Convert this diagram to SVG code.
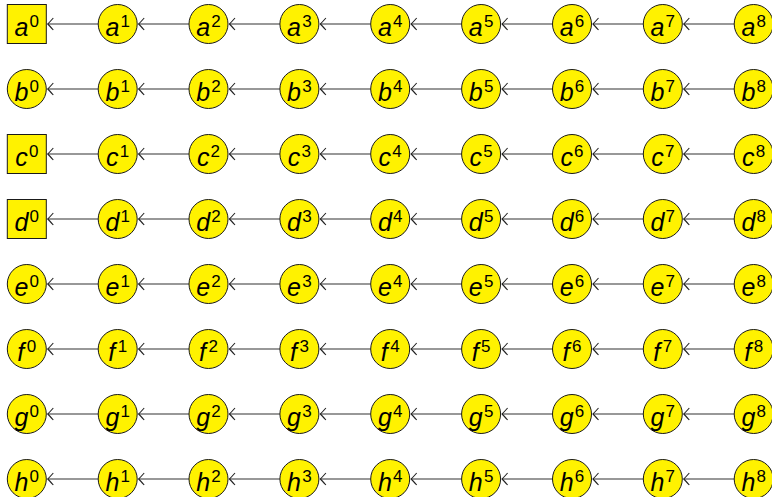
<svg xmlns="http://www.w3.org/2000/svg" width="772" height="497" viewBox="0 0 772 497">
<defs>
<style>
.n{fill:#fff200;stroke:#1a1a1a;stroke-width:1}
.t{font-family:"Liberation Sans",Arial,sans-serif;font-size:25px;text-anchor:middle;fill:#000}
.v{font-style:italic}
.s{font-size:17px;font-style:normal}
.e{stroke:#333;stroke-width:1.2;fill:none;marker-end:url(#ah)}
</style>
<marker id="ah" markerUnits="userSpaceOnUse" viewBox="-8 -8 10 16" markerWidth="10" markerHeight="16" refX="0" refY="0" orient="auto">
<path d="M-5.5,-6 Q-1.5,-1.5 0,0 Q-1.5,1.5 -5.5,6" fill="none" stroke="#222" stroke-width="1.1"/>
</marker>
</defs>
<rect width="772" height="497" fill="#fff"/>
<g id="connectors">
<path class="e" d="M98.2,24H47.8"/><path class="e" d="M189,24H138.7"/><path class="e" d="M279.9,24H229.5"/><path class="e" d="M370.7,24H320.4"/><path class="e" d="M461.6,24H411.2"/><path class="e" d="M552.5,24H502.1"/><path class="e" d="M643.3,24H593"/><path class="e" d="M734.2,24H683.8"/>
<path class="e" d="M98.2,89H47.8"/><path class="e" d="M189,89H138.7"/><path class="e" d="M279.9,89H229.5"/><path class="e" d="M370.7,89H320.4"/><path class="e" d="M461.6,89H411.2"/><path class="e" d="M552.5,89H502.1"/><path class="e" d="M643.3,89H593"/><path class="e" d="M734.2,89H683.8"/>
<path class="e" d="M98.2,154H47.8"/><path class="e" d="M189,154H138.7"/><path class="e" d="M279.9,154H229.5"/><path class="e" d="M370.7,154H320.4"/><path class="e" d="M461.6,154H411.2"/><path class="e" d="M552.5,154H502.1"/><path class="e" d="M643.3,154H593"/><path class="e" d="M734.2,154H683.8"/>
<path class="e" d="M98.2,219H47.8"/><path class="e" d="M189,219H138.7"/><path class="e" d="M279.9,219H229.5"/><path class="e" d="M370.7,219H320.4"/><path class="e" d="M461.6,219H411.2"/><path class="e" d="M552.5,219H502.1"/><path class="e" d="M643.3,219H593"/><path class="e" d="M734.2,219H683.8"/>
<path class="e" d="M98.2,284H47.8"/><path class="e" d="M189,284H138.7"/><path class="e" d="M279.9,284H229.5"/><path class="e" d="M370.7,284H320.4"/><path class="e" d="M461.6,284H411.2"/><path class="e" d="M552.5,284H502.1"/><path class="e" d="M643.3,284H593"/><path class="e" d="M734.2,284H683.8"/>
<path class="e" d="M98.2,349H47.8"/><path class="e" d="M189,349H138.7"/><path class="e" d="M279.9,349H229.5"/><path class="e" d="M370.7,349H320.4"/><path class="e" d="M461.6,349H411.2"/><path class="e" d="M552.5,349H502.1"/><path class="e" d="M643.3,349H593"/><path class="e" d="M734.2,349H683.8"/>
<path class="e" d="M98.2,414H47.8"/><path class="e" d="M189,414H138.7"/><path class="e" d="M279.9,414H229.5"/><path class="e" d="M370.7,414H320.4"/><path class="e" d="M461.6,414H411.2"/><path class="e" d="M552.5,414H502.1"/><path class="e" d="M643.3,414H593"/><path class="e" d="M734.2,414H683.8"/>
<path class="e" d="M98.2,479H47.8"/><path class="e" d="M189,479H138.7"/><path class="e" d="M279.9,479H229.5"/><path class="e" d="M370.7,479H320.4"/><path class="e" d="M461.6,479H411.2"/><path class="e" d="M552.5,479H502.1"/><path class="e" d="M643.3,479H593"/><path class="e" d="M734.2,479H683.8"/>
</g>
<g id="a0"><rect class="n" x="7.3" y="4.5" width="39" height="39"/><text class="t" x="26.8" y="36"><tspan class="v">a</tspan><tspan class="s" dx="1.2" dy="-8.6">0</tspan></text></g>
<g id="a1"><circle class="n" cx="117.7" cy="24" r="19.5"/><text class="t" x="117.7" y="36"><tspan class="v">a</tspan><tspan class="s" dx="1.2" dy="-8.6">1</tspan></text></g>
<g id="a2"><circle class="n" cx="208.5" cy="24" r="19.5"/><text class="t" x="208.5" y="36"><tspan class="v">a</tspan><tspan class="s" dx="1.2" dy="-8.6">2</tspan></text></g>
<g id="a3"><circle class="n" cx="299.4" cy="24" r="19.5"/><text class="t" x="299.4" y="36"><tspan class="v">a</tspan><tspan class="s" dx="1.2" dy="-8.6">3</tspan></text></g>
<g id="a4"><circle class="n" cx="390.2" cy="24" r="19.5"/><text class="t" x="390.2" y="36"><tspan class="v">a</tspan><tspan class="s" dx="1.2" dy="-8.6">4</tspan></text></g>
<g id="a5"><circle class="n" cx="481.1" cy="24" r="19.5"/><text class="t" x="481.1" y="36"><tspan class="v">a</tspan><tspan class="s" dx="1.2" dy="-8.6">5</tspan></text></g>
<g id="a6"><circle class="n" cx="572" cy="24" r="19.5"/><text class="t" x="572" y="36"><tspan class="v">a</tspan><tspan class="s" dx="1.2" dy="-8.6">6</tspan></text></g>
<g id="a7"><circle class="n" cx="662.8" cy="24" r="19.5"/><text class="t" x="662.8" y="36"><tspan class="v">a</tspan><tspan class="s" dx="1.2" dy="-8.6">7</tspan></text></g>
<g id="a8"><circle class="n" cx="753.7" cy="24" r="19.5"/><text class="t" x="753.7" y="36"><tspan class="v">a</tspan><tspan class="s" dx="1.2" dy="-8.6">8</tspan></text></g>
<g id="b0"><circle class="n" cx="26.8" cy="89" r="19.5"/><text class="t" x="26.8" y="101"><tspan class="v">b</tspan><tspan class="s" dx="1.2" dy="-8.6">0</tspan></text></g>
<g id="b1"><circle class="n" cx="117.7" cy="89" r="19.5"/><text class="t" x="117.7" y="101"><tspan class="v">b</tspan><tspan class="s" dx="1.2" dy="-8.6">1</tspan></text></g>
<g id="b2"><circle class="n" cx="208.5" cy="89" r="19.5"/><text class="t" x="208.5" y="101"><tspan class="v">b</tspan><tspan class="s" dx="1.2" dy="-8.6">2</tspan></text></g>
<g id="b3"><circle class="n" cx="299.4" cy="89" r="19.5"/><text class="t" x="299.4" y="101"><tspan class="v">b</tspan><tspan class="s" dx="1.2" dy="-8.6">3</tspan></text></g>
<g id="b4"><circle class="n" cx="390.2" cy="89" r="19.5"/><text class="t" x="390.2" y="101"><tspan class="v">b</tspan><tspan class="s" dx="1.2" dy="-8.6">4</tspan></text></g>
<g id="b5"><circle class="n" cx="481.1" cy="89" r="19.5"/><text class="t" x="481.1" y="101"><tspan class="v">b</tspan><tspan class="s" dx="1.2" dy="-8.6">5</tspan></text></g>
<g id="b6"><circle class="n" cx="572" cy="89" r="19.5"/><text class="t" x="572" y="101"><tspan class="v">b</tspan><tspan class="s" dx="1.2" dy="-8.6">6</tspan></text></g>
<g id="b7"><circle class="n" cx="662.8" cy="89" r="19.5"/><text class="t" x="662.8" y="101"><tspan class="v">b</tspan><tspan class="s" dx="1.2" dy="-8.6">7</tspan></text></g>
<g id="b8"><circle class="n" cx="753.7" cy="89" r="19.5"/><text class="t" x="753.7" y="101"><tspan class="v">b</tspan><tspan class="s" dx="1.2" dy="-8.6">8</tspan></text></g>
<g id="c0"><rect class="n" x="7.3" y="134.5" width="39" height="39"/><text class="t" x="26.8" y="166"><tspan class="v">c</tspan><tspan class="s" dx="1.2" dy="-8.6">0</tspan></text></g>
<g id="c1"><circle class="n" cx="117.7" cy="154" r="19.5"/><text class="t" x="117.7" y="166"><tspan class="v">c</tspan><tspan class="s" dx="1.2" dy="-8.6">1</tspan></text></g>
<g id="c2"><circle class="n" cx="208.5" cy="154" r="19.5"/><text class="t" x="208.5" y="166"><tspan class="v">c</tspan><tspan class="s" dx="1.2" dy="-8.6">2</tspan></text></g>
<g id="c3"><circle class="n" cx="299.4" cy="154" r="19.5"/><text class="t" x="299.4" y="166"><tspan class="v">c</tspan><tspan class="s" dx="1.2" dy="-8.6">3</tspan></text></g>
<g id="c4"><circle class="n" cx="390.2" cy="154" r="19.5"/><text class="t" x="390.2" y="166"><tspan class="v">c</tspan><tspan class="s" dx="1.2" dy="-8.6">4</tspan></text></g>
<g id="c5"><circle class="n" cx="481.1" cy="154" r="19.5"/><text class="t" x="481.1" y="166"><tspan class="v">c</tspan><tspan class="s" dx="1.2" dy="-8.6">5</tspan></text></g>
<g id="c6"><circle class="n" cx="572" cy="154" r="19.5"/><text class="t" x="572" y="166"><tspan class="v">c</tspan><tspan class="s" dx="1.2" dy="-8.6">6</tspan></text></g>
<g id="c7"><circle class="n" cx="662.8" cy="154" r="19.5"/><text class="t" x="662.8" y="166"><tspan class="v">c</tspan><tspan class="s" dx="1.2" dy="-8.6">7</tspan></text></g>
<g id="c8"><circle class="n" cx="753.7" cy="154" r="19.5"/><text class="t" x="753.7" y="166"><tspan class="v">c</tspan><tspan class="s" dx="1.2" dy="-8.6">8</tspan></text></g>
<g id="d0"><rect class="n" x="7.3" y="199.5" width="39" height="39"/><text class="t" x="26.8" y="231"><tspan class="v">d</tspan><tspan class="s" dx="1.2" dy="-8.6">0</tspan></text></g>
<g id="d1"><circle class="n" cx="117.7" cy="219" r="19.5"/><text class="t" x="117.7" y="231"><tspan class="v">d</tspan><tspan class="s" dx="1.2" dy="-8.6">1</tspan></text></g>
<g id="d2"><circle class="n" cx="208.5" cy="219" r="19.5"/><text class="t" x="208.5" y="231"><tspan class="v">d</tspan><tspan class="s" dx="1.2" dy="-8.6">2</tspan></text></g>
<g id="d3"><circle class="n" cx="299.4" cy="219" r="19.5"/><text class="t" x="299.4" y="231"><tspan class="v">d</tspan><tspan class="s" dx="1.2" dy="-8.6">3</tspan></text></g>
<g id="d4"><circle class="n" cx="390.2" cy="219" r="19.5"/><text class="t" x="390.2" y="231"><tspan class="v">d</tspan><tspan class="s" dx="1.2" dy="-8.6">4</tspan></text></g>
<g id="d5"><circle class="n" cx="481.1" cy="219" r="19.5"/><text class="t" x="481.1" y="231"><tspan class="v">d</tspan><tspan class="s" dx="1.2" dy="-8.6">5</tspan></text></g>
<g id="d6"><circle class="n" cx="572" cy="219" r="19.5"/><text class="t" x="572" y="231"><tspan class="v">d</tspan><tspan class="s" dx="1.2" dy="-8.6">6</tspan></text></g>
<g id="d7"><circle class="n" cx="662.8" cy="219" r="19.5"/><text class="t" x="662.8" y="231"><tspan class="v">d</tspan><tspan class="s" dx="1.2" dy="-8.6">7</tspan></text></g>
<g id="d8"><circle class="n" cx="753.7" cy="219" r="19.5"/><text class="t" x="753.7" y="231"><tspan class="v">d</tspan><tspan class="s" dx="1.2" dy="-8.6">8</tspan></text></g>
<g id="e0"><circle class="n" cx="26.8" cy="284" r="19.5"/><text class="t" x="26.8" y="296"><tspan class="v">e</tspan><tspan class="s" dx="1.2" dy="-8.6">0</tspan></text></g>
<g id="e1"><circle class="n" cx="117.7" cy="284" r="19.5"/><text class="t" x="117.7" y="296"><tspan class="v">e</tspan><tspan class="s" dx="1.2" dy="-8.6">1</tspan></text></g>
<g id="e2"><circle class="n" cx="208.5" cy="284" r="19.5"/><text class="t" x="208.5" y="296"><tspan class="v">e</tspan><tspan class="s" dx="1.2" dy="-8.6">2</tspan></text></g>
<g id="e3"><circle class="n" cx="299.4" cy="284" r="19.5"/><text class="t" x="299.4" y="296"><tspan class="v">e</tspan><tspan class="s" dx="1.2" dy="-8.6">3</tspan></text></g>
<g id="e4"><circle class="n" cx="390.2" cy="284" r="19.5"/><text class="t" x="390.2" y="296"><tspan class="v">e</tspan><tspan class="s" dx="1.2" dy="-8.6">4</tspan></text></g>
<g id="e5"><circle class="n" cx="481.1" cy="284" r="19.5"/><text class="t" x="481.1" y="296"><tspan class="v">e</tspan><tspan class="s" dx="1.2" dy="-8.6">5</tspan></text></g>
<g id="e6"><circle class="n" cx="572" cy="284" r="19.5"/><text class="t" x="572" y="296"><tspan class="v">e</tspan><tspan class="s" dx="1.2" dy="-8.6">6</tspan></text></g>
<g id="e7"><circle class="n" cx="662.8" cy="284" r="19.5"/><text class="t" x="662.8" y="296"><tspan class="v">e</tspan><tspan class="s" dx="1.2" dy="-8.6">7</tspan></text></g>
<g id="e8"><circle class="n" cx="753.7" cy="284" r="19.5"/><text class="t" x="753.7" y="296"><tspan class="v">e</tspan><tspan class="s" dx="1.2" dy="-8.6">8</tspan></text></g>
<g id="f0"><circle class="n" cx="26.8" cy="349" r="19.5"/><text class="t" x="26.8" y="361"><tspan class="v">f</tspan><tspan class="s" dx="2.5" dy="-8.6">0</tspan></text></g>
<g id="f1"><circle class="n" cx="117.7" cy="349" r="19.5"/><text class="t" x="117.7" y="361"><tspan class="v">f</tspan><tspan class="s" dx="2.5" dy="-8.6">1</tspan></text></g>
<g id="f2"><circle class="n" cx="208.5" cy="349" r="19.5"/><text class="t" x="208.5" y="361"><tspan class="v">f</tspan><tspan class="s" dx="2.5" dy="-8.6">2</tspan></text></g>
<g id="f3"><circle class="n" cx="299.4" cy="349" r="19.5"/><text class="t" x="299.4" y="361"><tspan class="v">f</tspan><tspan class="s" dx="2.5" dy="-8.6">3</tspan></text></g>
<g id="f4"><circle class="n" cx="390.2" cy="349" r="19.5"/><text class="t" x="390.2" y="361"><tspan class="v">f</tspan><tspan class="s" dx="2.5" dy="-8.6">4</tspan></text></g>
<g id="f5"><circle class="n" cx="481.1" cy="349" r="19.5"/><text class="t" x="481.1" y="361"><tspan class="v">f</tspan><tspan class="s" dx="2.5" dy="-8.6">5</tspan></text></g>
<g id="f6"><circle class="n" cx="572" cy="349" r="19.5"/><text class="t" x="572" y="361"><tspan class="v">f</tspan><tspan class="s" dx="2.5" dy="-8.6">6</tspan></text></g>
<g id="f7"><circle class="n" cx="662.8" cy="349" r="19.5"/><text class="t" x="662.8" y="361"><tspan class="v">f</tspan><tspan class="s" dx="2.5" dy="-8.6">7</tspan></text></g>
<g id="f8"><circle class="n" cx="753.7" cy="349" r="19.5"/><text class="t" x="753.7" y="361"><tspan class="v">f</tspan><tspan class="s" dx="2.5" dy="-8.6">8</tspan></text></g>
<g id="g0"><circle class="n" cx="26.8" cy="414" r="19.5"/><text class="t" x="26.8" y="426"><tspan class="v">g</tspan><tspan class="s" dx="1.2" dy="-8.6">0</tspan></text></g>
<g id="g1"><circle class="n" cx="117.7" cy="414" r="19.5"/><text class="t" x="117.7" y="426"><tspan class="v">g</tspan><tspan class="s" dx="1.2" dy="-8.6">1</tspan></text></g>
<g id="g2"><circle class="n" cx="208.5" cy="414" r="19.5"/><text class="t" x="208.5" y="426"><tspan class="v">g</tspan><tspan class="s" dx="1.2" dy="-8.6">2</tspan></text></g>
<g id="g3"><circle class="n" cx="299.4" cy="414" r="19.5"/><text class="t" x="299.4" y="426"><tspan class="v">g</tspan><tspan class="s" dx="1.2" dy="-8.6">3</tspan></text></g>
<g id="g4"><circle class="n" cx="390.2" cy="414" r="19.5"/><text class="t" x="390.2" y="426"><tspan class="v">g</tspan><tspan class="s" dx="1.2" dy="-8.6">4</tspan></text></g>
<g id="g5"><circle class="n" cx="481.1" cy="414" r="19.5"/><text class="t" x="481.1" y="426"><tspan class="v">g</tspan><tspan class="s" dx="1.2" dy="-8.6">5</tspan></text></g>
<g id="g6"><circle class="n" cx="572" cy="414" r="19.5"/><text class="t" x="572" y="426"><tspan class="v">g</tspan><tspan class="s" dx="1.2" dy="-8.6">6</tspan></text></g>
<g id="g7"><circle class="n" cx="662.8" cy="414" r="19.5"/><text class="t" x="662.8" y="426"><tspan class="v">g</tspan><tspan class="s" dx="1.2" dy="-8.6">7</tspan></text></g>
<g id="g8"><circle class="n" cx="753.7" cy="414" r="19.5"/><text class="t" x="753.7" y="426"><tspan class="v">g</tspan><tspan class="s" dx="1.2" dy="-8.6">8</tspan></text></g>
<g id="h0"><circle class="n" cx="26.8" cy="479" r="19.5"/><text class="t" x="26.8" y="491"><tspan class="v">h</tspan><tspan class="s" dx="1.2" dy="-8.6">0</tspan></text></g>
<g id="h1"><circle class="n" cx="117.7" cy="479" r="19.5"/><text class="t" x="117.7" y="491"><tspan class="v">h</tspan><tspan class="s" dx="1.2" dy="-8.6">1</tspan></text></g>
<g id="h2"><circle class="n" cx="208.5" cy="479" r="19.5"/><text class="t" x="208.5" y="491"><tspan class="v">h</tspan><tspan class="s" dx="1.2" dy="-8.6">2</tspan></text></g>
<g id="h3"><circle class="n" cx="299.4" cy="479" r="19.5"/><text class="t" x="299.4" y="491"><tspan class="v">h</tspan><tspan class="s" dx="1.2" dy="-8.6">3</tspan></text></g>
<g id="h4"><circle class="n" cx="390.2" cy="479" r="19.5"/><text class="t" x="390.2" y="491"><tspan class="v">h</tspan><tspan class="s" dx="1.2" dy="-8.6">4</tspan></text></g>
<g id="h5"><circle class="n" cx="481.1" cy="479" r="19.5"/><text class="t" x="481.1" y="491"><tspan class="v">h</tspan><tspan class="s" dx="1.2" dy="-8.6">5</tspan></text></g>
<g id="h6"><circle class="n" cx="572" cy="479" r="19.5"/><text class="t" x="572" y="491"><tspan class="v">h</tspan><tspan class="s" dx="1.2" dy="-8.6">6</tspan></text></g>
<g id="h7"><circle class="n" cx="662.8" cy="479" r="19.5"/><text class="t" x="662.8" y="491"><tspan class="v">h</tspan><tspan class="s" dx="1.2" dy="-8.6">7</tspan></text></g>
<g id="h8"><circle class="n" cx="753.7" cy="479" r="19.5"/><text class="t" x="753.7" y="491"><tspan class="v">h</tspan><tspan class="s" dx="1.2" dy="-8.6">8</tspan></text></g>
</svg>
